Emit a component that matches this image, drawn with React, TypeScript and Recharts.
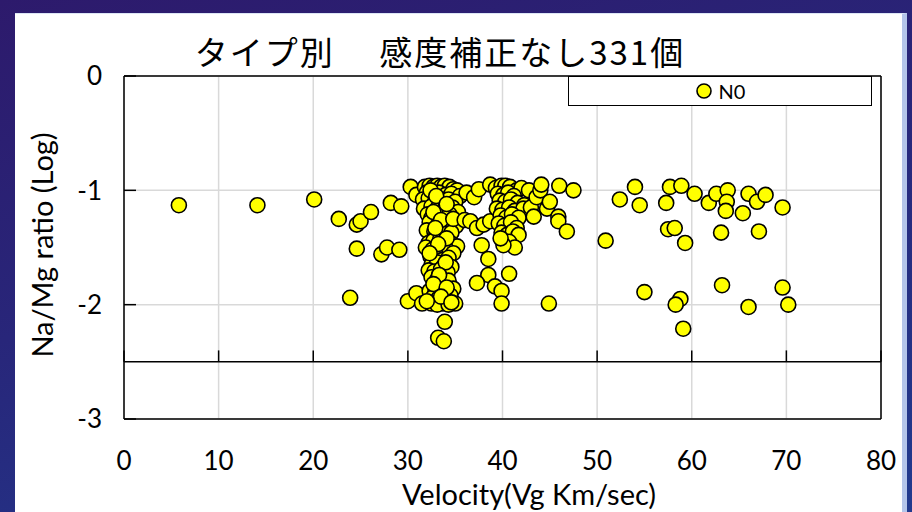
import { ScatterChart, Scatter, XAxis, YAxis, CartesianGrid, ReferenceLine, Legend } from 'recharts'

const chartTitle = 'タイプ別　 感度補正なし331個'
const seriesName = 'N0'
const xTitle = 'Velocity(Vg Km/sec)'
const yTitle = 'Na/Mg ratio (Log)'
const xTicks = [0, 10, 20, 30, 40, 50, 60, 70, 80]
const yTicks = [-3, -2, -1, 0]
const cutLine = -2.5

// [velocity (km/s), log10(Na/Mg)]
const slowPoints = [
  [5.8, -1.13], [14.1, -1.13], [20.1, -1.08], [22.7, -1.25], [23.9, -1.94], [24.6, -1.51],
  [24.6, -1.3], [25.0, -1.27], [26.1, -1.19], [27.2, -1.56], [27.8, -1.5], [28.2, -1.11],
  [29.1, -1.52], [29.3, -1.14], [30.0, -1.97], [30.3, -0.97], [30.9, -1.04], [30.9, -1.9],
  [31.5, -1.99],
]

const columnPoints = [
  [31.8, -0.97], [32.3, -0.96], [32.7, -0.97], [33.1, -0.96], [33.5, -0.97], [33.9, -0.96],
  [34.4, -0.97], [34.8, -0.99], [35.2, -1.0], [32.0, -1.02], [32.6, -1.03], [33.3, -1.02],
  [34.0, -1.04], [34.6, -1.03], [35.5, -1.05], [31.6, -1.08], [32.2, -1.07], [32.9, -1.09],
  [33.6, -1.08], [34.3, -1.08], [35.0, -1.1], [31.7, -1.16], [32.5, -1.14], [33.2, -1.15],
  [33.9, -1.16], [34.7, -1.15], [35.3, -1.19], [32.1, -1.21], [32.5, -1.24], [33.0, -1.22],
  [33.7, -1.23], [34.4, -1.21], [32.3, -1.28], [33.2, -1.3], [34.0, -1.29], [34.3, -1.33],
  [35.1, -1.31], [32.0, -1.35], [32.8, -1.36], [33.0, -1.39], [33.8, -1.38], [34.6, -1.37],
  [32.2, -1.46], [32.7, -1.44], [33.4, -1.43], [33.9, -1.49], [34.5, -1.46], [35.2, -1.49],
  [31.9, -1.5], [32.6, -1.52], [33.4, -1.54], [34.1, -1.52], [34.8, -1.55], [32.4, -1.58],
  [33.0, -1.57], [33.6, -1.61], [34.3, -1.59], [32.5, -1.65], [33.1, -1.63], [33.8, -1.66],
  [34.6, -1.67], [32.2, -1.7], [32.8, -1.71], [33.5, -1.69], [34.2, -1.72], [32.5, -1.76],
  [33.1, -1.78], [33.6, -1.81], [34.3, -1.79], [32.9, -1.84], [33.4, -1.86], [34.8, -1.86],
  [32.3, -1.88], [32.9, -1.89], [33.9, -1.91], [34.5, -1.92], [32.6, -1.94], [33.2, -1.95],
  [34.0, -1.96], [32.5, -1.99], [33.7, -1.99], [35.0, -1.99], [33.1, -2.0], [34.3, -2.0],
  [32.4, -1.0], [33.0, -1.05], [34.1, -1.12], [32.7, -1.19], [33.5, -1.26], [34.8, -1.25],
  [32.9, -1.33], [34.1, -1.42], [33.2, -1.47], [32.3, -1.55], [34.0, -1.63], [33.3, -1.74],
  [32.7, -1.82], [34.1, -1.85], [33.5, -1.93], [32.0, -1.97], [34.6, -1.98], [33.9, -2.15],
  [33.2, -2.29], [33.8, -2.32],
]

const midPoints = [
  [36.2, -1.02], [37.0, -1.06], [37.5, -0.99], [38.7, -0.95], [36.0, -1.26], [36.6, -1.27],
  [37.3, -1.33], [38.0, -1.3], [38.7, -1.27], [37.8, -1.48], [38.5, -1.6], [38.5, -1.74],
  [37.3, -1.81], [39.2, -1.84], [39.9, -1.88], [40.7, -1.73], [39.9, -1.99], [39.3, -0.98],
  [39.9, -0.96], [40.3, -0.96], [40.8, -0.97], [41.5, -1.0], [42.0, -0.98], [39.5, -1.03],
  [40.1, -1.04], [40.6, -1.02], [41.2, -1.05], [39.7, -1.09], [40.3, -1.1], [40.9, -1.08],
  [41.6, -1.11], [42.3, -1.13], [39.4, -1.16], [40.0, -1.17], [40.7, -1.15], [41.3, -1.18],
  [42.2, -1.16], [39.8, -1.22], [40.4, -1.24], [41.0, -1.21], [41.7, -1.24], [39.6, -1.29],
  [40.2, -1.31], [40.9, -1.28], [41.5, -1.33], [39.9, -1.37], [40.5, -1.39], [41.1, -1.36],
  [41.7, -1.39], [40.1, -1.44], [40.7, -1.45], [41.3, -1.5], [40.1, -1.48], [39.8, -1.42],
  [42.8, -1.0], [43.0, -1.15], [43.3, -1.23], [43.6, -1.06], [44.0, -1.0], [44.1, -0.95],
  [44.7, -1.16], [45.0, -1.1], [45.9, -1.23], [45.9, -1.27], [46.0, -0.96], [46.8, -1.36],
  [47.5, -1.0], [44.9, -1.99],
]

const fastPoints = [
  [50.9, -1.44], [52.4, -1.08], [54.0, -0.97], [54.5, -1.13], [55.0, -1.89], [57.3, -1.11],
  [57.7, -0.97], [58.9, -0.96], [60.3, -1.03], [57.5, -1.34], [58.2, -1.33], [59.3, -1.46],
  [58.8, -1.95], [58.3, -2.0], [59.1, -2.21], [61.8, -1.11], [62.6, -1.03], [63.8, -1.0],
  [63.7, -1.1], [63.6, -1.18], [63.1, -1.37], [63.2, -1.83], [65.4, -1.2], [66.0, -1.03],
  [66.9, -1.1], [67.8, -1.04], [67.1, -1.36], [66.0, -2.02], [69.6, -1.15], [69.6, -1.85],
  [70.2, -2.0],
]

const data = [...slowPoints, ...columnPoints, ...midPoints, ...fastPoints].map(([v, r]) => ({ v, r }))

const font = 'Lato, "Noto Sans", sans-serif'

const Marker = (p: any) => (
  <circle cx={p.cx} cy={p.cy} r={7.5} fill="#ffff00" stroke="#000" strokeWidth={1.6} />
)

const LegendBox = () => (
  <div
    style={{
      height: 30, boxSizing: 'border-box', border: '1.5px solid #000', background: '#fff',
      display: 'flex', alignItems: 'center', justifyContent: 'center', gap: 6,
      fontFamily: font, fontSize: 20, color: '#000',
    }}
  >
    <svg width={18} height={18}>
      <circle cx={9} cy={9} r={7} fill="#ffff00" stroke="#000" strokeWidth={1.6} />
    </svg>
    <span>{seriesName}</span>
  </div>
)

export default function App() {
  return (
    <div
      style={{
        position: 'fixed', left: 0, top: 0, width: 912, height: 512, overflow: 'hidden',
        background: 'linear-gradient(165deg, #2d1a6c 0%, #28267a 45%, #213a8e 100%)',
      }}
    >
      <div
        style={{
          position: 'absolute', left: 15, top: 13, width: 887, height: 499, background: '#fff',
          borderRight: '5px solid #b4c5ea', borderTop: '1px solid #dce5f5',
        }}
      />
      <div
        style={{
          position: 'absolute', left: 0, top: 29, width: 880, height: 44, lineHeight: '44px',
          textAlign: 'center', whiteSpace: 'pre', fontFamily: '"Noto Sans CJK JP", sans-serif',
          fontSize: 33, letterSpacing: 2, color: '#000',
        }}
      >
        {chartTitle}
      </div>
      <div style={{ position: 'absolute', left: 0, top: 0 }}>
        <ScatterChart width={912} height={512} margin={{ top: 76, right: 31, bottom: 33, left: 15 }}>
          <CartesianGrid stroke="#d9d9d9" strokeWidth={1.5} />
          <XAxis
            type="number"
            dataKey="v"
            domain={[0, 80]}
            ticks={xTicks}
            height={60}
            tickSize={0}
            tickMargin={33}
            axisLine={{ stroke: '#000', strokeWidth: 1.5 }}
            tick={{ fontSize: 26, fill: '#000', fontFamily: font }}
            label={() => (
              <text x={529} y={505} textAnchor="middle" fontSize={29} fontFamily={font} fill="#000">
                {xTitle}
              </text>
            )}
          />
          <YAxis
            type="number"
            dataKey="r"
            domain={[-3, 0]}
            ticks={yTicks}
            width={109}
            tickSize={-12}
            tickMargin={34}
            axisLine={{ stroke: '#000', strokeWidth: 1.5 }}
            tickLine={{ stroke: '#000', strokeWidth: 1.5 }}
            tick={{ fontSize: 26, fill: '#000', fontFamily: font }}
            label={() => (
              <text
                x={53} y={245} transform="rotate(-90 53 245)" textAnchor="middle"
                fontSize={29} fontFamily={font} fill="#000"
              >
                {yTitle}
              </text>
            )}
          />
          <ReferenceLine y={0} stroke="#000" strokeWidth={1.5} />
          <ReferenceLine x={80} stroke="#000" strokeWidth={1.5} />
          <ReferenceLine y={cutLine} stroke="#000" strokeWidth={1.5} />
          {xTicks.map((t) => (
            <ReferenceLine
              key={t}
              segment={[{ x: t, y: cutLine }, { x: t, y: cutLine + 0.1 }]}
              stroke="#000"
              strokeWidth={1.5}
            />
          ))}
          <Legend
            layout="horizontal"
            verticalAlign="middle"
            align="center"
            content={<LegendBox />}
            wrapperStyle={{ position: 'absolute', left: 568, top: 76, width: 304, height: 30 }}
          />
          <Scatter
            name={seriesName}
            data={data}
            shape={Marker}
            isAnimationActive={false}
          />
        </ScatterChart>
      </div>
    </div>
  )
}
